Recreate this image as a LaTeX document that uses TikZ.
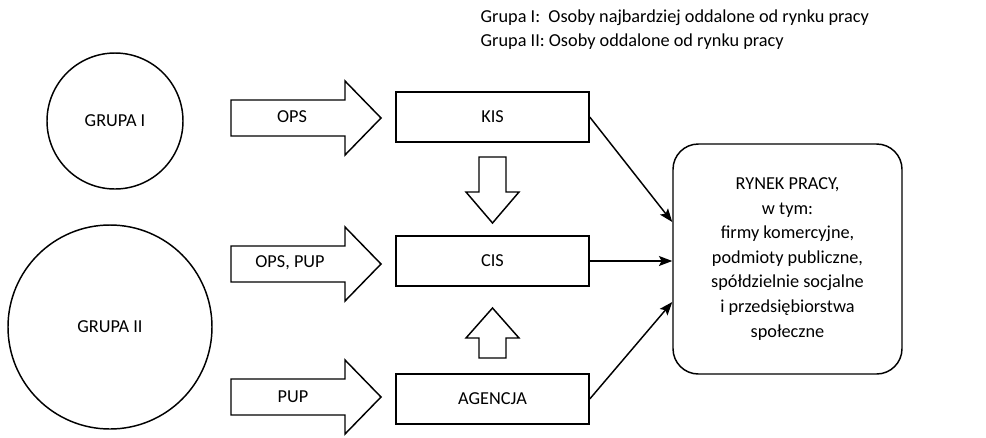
\documentclass[tikz,border=0pt]{standalone}
\usepackage{fontspec}
\setmainfont{Carlito}
\usetikzlibrary{arrows.meta}
\tikzset{
  grupa/.style={draw, circle, line width=1.1pt, inner sep=0pt},
  pole/.style={draw, rectangle, line width=1.1pt, minimum width=144.75pt, minimum height=37.5pt},
  strzalka/.style={draw, line width=1.1pt, line join=miter},
  lacznik/.style={-{Stealth[length=10pt,width=7.5pt,inset=2pt]}, line width=1.1pt},
}
\begin{document}
\begin{tikzpicture}[x=0.75pt, y=-0.75pt, font=\fontsize{13.7}{18.4}\selectfont]
  \useasboundingbox (0,0) rectangle (986,437);

  % Legenda
  \node[anchor=west] (leg1) at (476,18) {Grupa I:\ \ Osoby najbardziej oddalone od rynku pracy};
  \node[anchor=west] (leg2) at (476,42) {Grupa II: Osoby oddalone od rynku pracy};

  % Grupy
  \node[grupa, minimum size=102pt] (g1) at (115,121) {GRUPA I};
  \node[grupa, minimum size=153pt] (g2) at (110,327) {GRUPA II};

  % Strzalki blokowe
  \draw[strzalka] (231,100) -- (345,100) -- (345,81) -- (381,118) -- (345,155) -- (345,136) -- (231,136) -- cycle;
  \node (ops) at (292,117) {OPS};
  \draw[strzalka] (231,246) -- (345,246) -- (345,227) -- (381,264) -- (345,301) -- (345,282) -- (231,282) -- cycle;
  \node (opspup) at (290,263) {OPS, PUP};
  \draw[strzalka] (231,379) -- (345,379) -- (345,360) -- (381,397) -- (345,434) -- (345,415) -- (231,415) -- cycle;
  \node (pup) at (293,397) {PUP};

  % Instytucje
  \node[pole] (kis) at (492.5,117) {KIS};
  \node[pole] (cis) at (492.5,261) {CIS};
  \node[pole] (agencja) at (492.5,399) {AGENCJA};

  \draw[strzalka] (479,157) -- (506,157) -- (506,192) -- (519,192) -- (492.5,223) -- (466,192) -- (479,192) -- cycle;
  \draw[strzalka] (479,358) -- (506,358) -- (506,338) -- (519,338) -- (492.5,308) -- (466,338) -- (479,338) -- cycle;

  % Rynek pracy
  \node[draw, line width=1.1pt, rounded corners=19pt, minimum width=171.75pt, minimum height=172.5pt, align=center] (rynek) at (787.5,259)
    {RYNEK PRACY,\\ w tym:\\ firmy komercyjne,\\ podmioty publiczne,\\ spółdzielnie socjalne\\ i przedsiębiorstwa\\ społeczne};

  \draw[lacznik] (kis.east) -- ([yshift=27.75pt]rynek.west);
  \draw[lacznik] (cis.east) -- (cis.east -| rynek.west);
  \draw[lacznik] (agencja.east) -- ([yshift=-32.25pt]rynek.west);
\end{tikzpicture}
\end{document}
